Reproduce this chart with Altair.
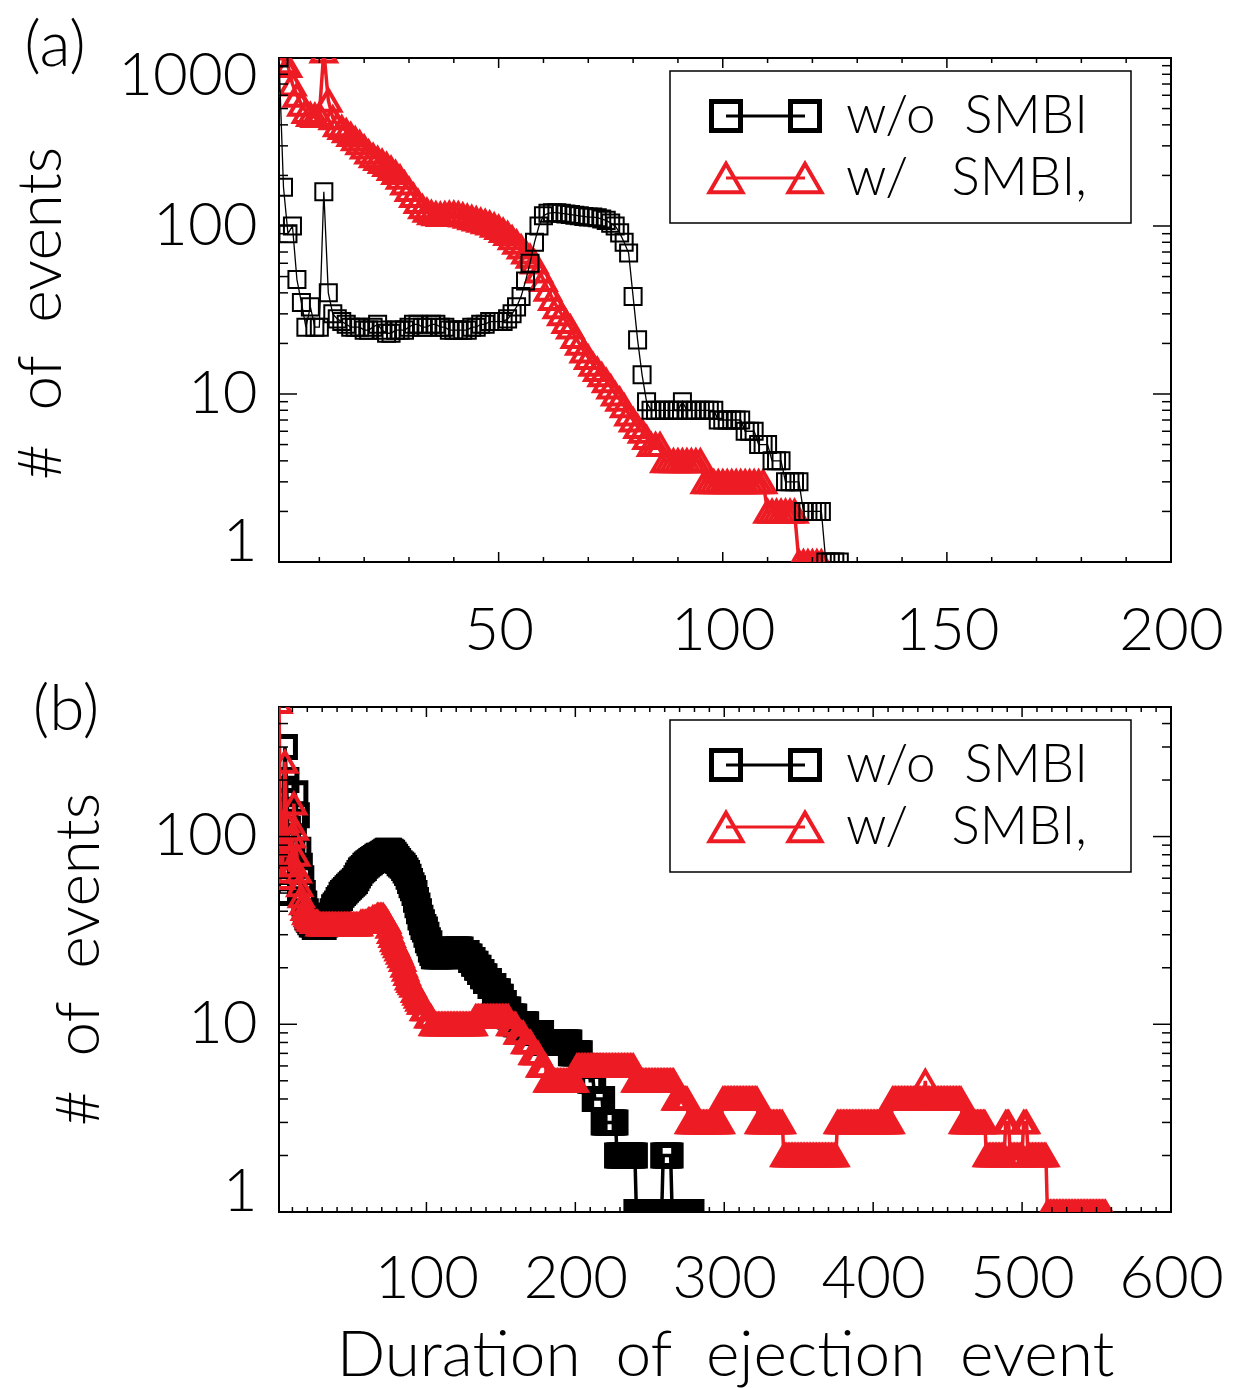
import altair as alt
import pandas as pd

# ---------------- data ----------------
# Panel (a): number of events for durations 1, 2, 3, ...
a_black = [1000, 170, 90, 100, 48, 35, 25, 33, 25, 25,
           160, 40, 30, 28, 27, 26, 25, 25, 25, 24,
           24, 25, 26, 24, 23, 23, 24, 24, 24, 25,
           26, 26, 25, 25, 26, 26, 25, 25, 24, 24,
           24, 24, 24, 25, 25, 26, 26, 27, 27, 27,
           27, 28, 30, 33, 38, 47, 60, 80, 100, 115,
           119, 120, 120, 119, 118, 117, 116, 115, 114, 113,
           113, 112, 110, 108, 104, 100, 91, 80, 69, 38,
           21, 13, 9] + [8] * 7 + [9] + [8] * 7 + [7] * 6 + [6] * 3 + [5] * 3 + [4] * 3 + [3] * 4 + [2] * 5 + [1] * 4

a_red = [1200, 950, 900, 700, 600, 530, 480, 460, 455, 460,
         1100, 560, 440, 400, 385, 368, 350, 330, 313, 295,
         275, 262, 252, 242, 232, 220, 208, 195, 180, 165,
         152, 140, 130, 124, 120, 118, 117, 118, 119, 119,
         118, 116, 114, 112, 110, 108, 106, 104, 101, 98,
         94, 90, 85, 80, 75, 70, 66, 61, 54, 48,
         42, 37, 33, 30, 27, 25, 22, 20, 18, 16.5,
         15, 14, 13, 12, 11, 10, 9.3, 8.5, 7.6, 7,
         6.4, 6, 5.5] + [5] * 3 + [4] * 9 + [3] * 14 + [2] * 7 + [1] * 6

# Panel (b)
b_black = [50, 85, 60, 180, 300, 200, 110, 85, 70, 85,
           120, 170, 130, 85, 70, 60, 50, 44, 40, 37,
           36, 35, 34, 34, 33, 33, 33, 33, 33, 33,
           33, 34, 35, 36, 37, 38, 40, 42, 43, 44,
           46, 47, 49, 50, 51, 52, 53, 54, 55, 56,
           57, 58, 60, 62, 64, 66, 67, 68, 70, 71,
           72, 73, 74, 75, 76, 77, 78, 79, 79, 80,
           81, 82, 83, 84, 84, 83, 82, 80, 78, 76,
           74, 72, 71, 70, 68, 66, 64, 61, 58, 55,
           53, 50, 46, 43, 40, 37, 35, 33, 32, 30,
           28, 27, 25, 24, 23, 23, 23, 23, 23, 23,
           23, 23, 23, 24, 24, 24, 24, 25, 25, 25,
           25, 25, 25, 24, 24, 24, 24, 23, 23, 22,
           22, 21, 21, 20, 20, 19, 19, 18, 18, 17,
           17, 17, 16, 16, 16, 15, 15, 15, 14, 14,
           13, 13, 12, 12, 12, 11, 11, 11, 11, 10] + \
          [10] * 7 + [9] * 10 + [8] * 19 + [7] * 7 + [6] * 6 + [5] * 3 + [4] * 6 + \
          [3] * 9 + [2] * 13 + [1] * 18 + [2] * 6 + [1] * 14

b_red = [520, 100, 60, 90, 250, 120, 80, 65, 70, 100,
         150, 110, 80, 65, 55, 48, 44, 41, 39, 38,
         37, 36, 36, 35, 35, 35, 35, 34, 34, 34] + [34] * 25 + [35] * 5 + \
        [36, 36, 36, 37, 37, 37, 38, 38, 38, 38,
         38, 37, 36, 35, 33, 31, 29.5, 28, 27, 26,
         25, 24, 23, 22, 20.5, 19.5, 18.5, 17.5, 17, 16.5,
         16, 15, 14.5, 14, 13.5, 13, 13, 12, 12, 12, 11, 11, 11] + \
        [10] * 29 + [11] * 23 + [10] * 5 + [9] * 5 + [8] * 5 + [7] * 5 + [6] * 5 + \
        [5] * 20 + [6] * 39 + [5] * 27 + [4] * 9 + [3] * 23 + [4] * 24 + [3] * 17 + \
        [2] * 36 + [3] * 37 + [4] * 22 + [5] + [4] * 24 + [3] * 16 + [2] * 13 + \
        [3] * 3 + [2] * 9 + [3] * 3 + [2] * 13 + [1] * 40

a_x_labels = [50, 100, 150, 200]
b_x_labels = [100, 200, 300, 400, 500, 600]
a_y_labels = [1, 10, 100, 1000]
b_y_labels = [1, 10, 100]

a_x_major = [50, 100, 150]
a_x_minor = [v for v in range(10, 200, 10) if v % 50 != 0]
b_x_major = [100, 200, 300, 400, 500]
b_x_minor = [v for v in range(10, 600, 10) if v % 100 != 0]
y_major = [10, 100]
a_y_minor = [m * d for d in (1, 10, 100) for m in range(2, 10)]
b_y_minor = [m * d for d in (1, 10) for m in range(2, 10)] + [200, 300, 400]

legend_labels = ["w/o\u00a0\u00a0SMBI", "w/\u00a0\u00a0\u00a0SMBI,"]

RED = "#ED1C24"
FONT = "Lato"
FW = 300
W, HA, HB = 892, 504, 505
YTITLE = "#\u00a0\u00a0of\u00a0\u00a0events"
XTITLE = "Duration\u00a0\u00a0of\u00a0\u00a0ejection\u00a0\u00a0event"


def frame(vals):
    return pd.DataFrame({"duration": list(range(1, len(vals) + 1)), "events": vals})


dummy = pd.DataFrame({"k": [0]})


def series_layers(vals, xs, ys, xax, yax, color, shape, size, lw, pw):
    base = alt.Chart(frame(vals)).encode(
        x=alt.X("duration:Q", scale=xs, axis=xax),
        y=alt.Y("events:Q", scale=ys, axis=yax),
    )
    line = base.mark_line(color=color, strokeWidth=lw, clip=True)
    pts = base.mark_point(shape=shape, filled=False, color=color, size=size,
                          strokeWidth=pw, opacity=1, clip=True)
    return [line, pts]


def tick_layers(xs, ys, xax, yax, H, xmaj, xmin, ymaj, ymin):
    out = []
    for vals, L in ((xmaj, 10), (xmin, 5)):
        d = pd.DataFrame({"duration": vals})
        out.append(alt.Chart(d).mark_rule(color="black", strokeWidth=1.5).encode(
            x=alt.X("duration:Q", scale=xs, axis=xax), y=alt.value(H), y2=alt.value(H - L)))
        out.append(alt.Chart(d).mark_rule(color="black", strokeWidth=1.5).encode(
            x=alt.X("duration:Q", scale=xs, axis=xax), y=alt.value(0), y2=alt.value(L)))
    for vals, L in ((ymaj, 18), (ymin, 9)):
        d = pd.DataFrame({"events": vals})
        out.append(alt.Chart(d).mark_rule(color="black", strokeWidth=1.5).encode(
            y=alt.Y("events:Q", scale=ys, axis=yax), x=alt.value(0), x2=alt.value(L)))
        out.append(alt.Chart(d).mark_rule(color="black", strokeWidth=1.5).encode(
            y=alt.Y("events:Q", scale=ys, axis=yax), x=alt.value(W - L), x2=alt.value(W)))
    return out


def legend_layers():
    out = [alt.Chart(dummy).mark_rect(fill="white", stroke="black", strokeWidth=1.5).encode(
        x=alt.value(391), x2=alt.value(852), y=alt.value(13), y2=alt.value(165))]
    rows = [(58, "black", "square", 841, 5), (120, RED, "triangle-up", 1089, 4)]
    for (yy, col, shp, sz, sw), lab in zip(rows, legend_labels):
        out.append(alt.Chart(dummy).mark_rule(color=col, strokeWidth=3).encode(
            x=alt.value(447), x2=alt.value(526), y=alt.value(yy)))
        for xx in (447, 526):
            out.append(alt.Chart(dummy).mark_point(shape=shp, filled=False, color=col, size=sz,
                                                   strokeWidth=sw, opacity=1).encode(
                x=alt.value(xx), y=alt.value(yy)))
        out.append(alt.Chart(dummy).mark_text(align="left", baseline="alphabetic", font=FONT,
                                              fontSize=53, fontWeight=FW, color="black").encode(
            x=alt.value(567), y=alt.value(yy + 17), text=alt.value(lab)))
    return out


def panel_label(txt, x, y):
    return alt.Chart(dummy).mark_text(align="center", baseline="middle", font=FONT, fontSize=64,
                                      fontWeight=FW, color="black").encode(
        x=alt.value(x), y=alt.value(y), text=alt.value(txt))


# ---------------- panel (a) ----------------
xs_a = alt.Scale(domain=[1, 200], nice=False, zero=False)
ys_a = alt.Scale(type="log", domain=[1, 1000], nice=False)
xax_a = alt.Axis(values=a_x_labels, title=None, labelFlush=False, labelPadding=87,
                 labelBaseline="alphabetic", format="d")
yax_a = alt.Axis(values=a_y_labels, format="d", labelFlush=True, labelFlushOffset=11,
                 labelPadding=22, title=YTITLE, titleX=-238, titleY=255, titleAngle=270,
                 titleAlign="center", titleBaseline="middle")

layers_a = []
layers_a += series_layers(a_red, xs_a, ys_a, xax_a, yax_a, RED, "triangle-up", 580, 3.5, 4)
layers_a += series_layers(a_black, xs_a, ys_a, xax_a, yax_a, "black", "square", 290, 1.3, 2)
layers_a += tick_layers(xs_a, ys_a, xax_a, yax_a, HA, a_x_major, a_x_minor, y_major, a_y_minor)
layers_a += legend_layers()
layers_a.append(panel_label("(a)", -224, -11))
layers_a.append(alt.Chart(dummy).mark_rule(opacity=0, strokeOpacity=0).encode(
    x=alt.value(-278), x2=alt.value(-277), y=alt.value(-57)))
chart_a = alt.layer(*layers_a).properties(width=W, height=HA)

# ---------------- panel (b) ----------------
xs_b = alt.Scale(domain=[1, 600], nice=False, zero=False)
ys_b = alt.Scale(type="log", domain=[1, 490], nice=False)
xax_b = alt.Axis(values=b_x_labels, labelFlush=False, labelPadding=85, labelBaseline="alphabetic",
                 format="d", title=XTITLE, titleFontSize=64,
                 titleX=446, titleY=163, titleAlign="center", titleBaseline="alphabetic")
yax_b = alt.Axis(values=b_y_labels, format="d", labelFlush=True, labelFlushOffset=11,
                 labelPadding=22, title=YTITLE, titleX=-200, titleY=252, titleAngle=270,
                 titleAlign="center", titleBaseline="middle")

layers_b = []
layers_b += series_layers(b_black, xs_b, ys_b, xax_b, yax_b, "black", "square", 440, 3.5, 5)
layers_b += series_layers(b_red, xs_b, ys_b, xax_b, yax_b, RED, "triangle-up", 520, 3.5, 4)
layers_b += tick_layers(xs_b, ys_b, xax_b, yax_b, HB, b_x_major, b_x_minor, y_major, b_y_minor)
layers_b += legend_layers()
layers_b.append(panel_label("(b)", -213, 4))
chart_b = alt.layer(*layers_b).properties(width=W, height=HB)

chart = alt.vconcat(chart_a, chart_b, spacing=145, bounds="flush").properties(
    padding=0, background="white"
).configure_view(stroke="black", strokeWidth=2).configure_axis(
    labelFont=FONT, labelFontSize=60, labelFontWeight=FW, labelColor="black",
    titleFont=FONT, titleFontSize=62, titleFontWeight=FW, titleColor="black",
    grid=False, domain=False, ticks=False, tickSize=0,
)

chart.save("out.html", embed_options={"renderer": "svg", "actions": False})
